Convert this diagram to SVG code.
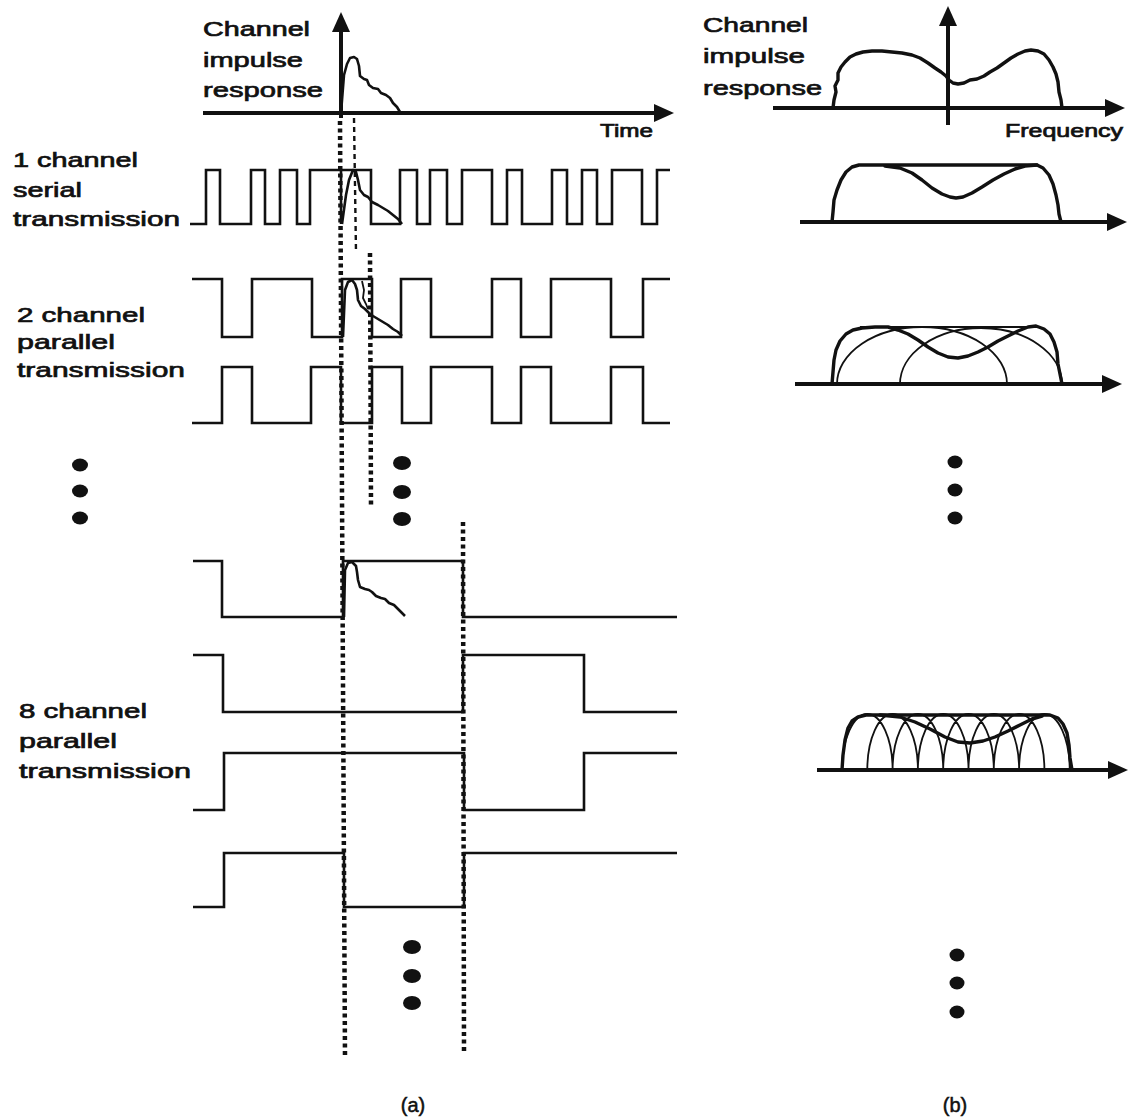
<svg xmlns="http://www.w3.org/2000/svg" width="1135" height="1117" viewBox="0 0 1135 1117">
  <defs>
    <style>
      .lbl { font-family: "Liberation Sans", Arial, sans-serif; font-weight: normal; font-size: 21px; fill: #111; stroke: #111; stroke-width: 0.7; }
      .cap { font-family: "Liberation Sans", Arial, sans-serif; font-weight: normal; font-size: 20px; fill: #111; stroke: #111; stroke-width: 0.5; }
      .ax { stroke: #111; stroke-width: 4; fill: none; }
      .wave { stroke: #111; stroke-width: 2.6; fill: none; stroke-linejoin: miter; }
      .resp { stroke: #111; stroke-width: 2.6; fill: none; stroke-linejoin: round; }
      .env { stroke: #111; stroke-width: 3.4; fill: none; stroke-linejoin: round; stroke-linecap: round; }
      .sub { stroke: #111; stroke-width: 1.8; fill: none; }
      .dash { stroke: #111; stroke-width: 4.5; fill: none; stroke-dasharray: 4 3.5; }
      .dashThin { stroke: #111; stroke-width: 2.4; fill: none; stroke-dasharray: 5 4; }
      .dot { fill: #111; }
    </style>
    <marker id="arrow" markerUnits="userSpaceOnUse" markerWidth="24" markerHeight="22" viewBox="0 -11 24 22" refX="0" refY="0" orient="auto" overflow="visible">
      <path d="M0,-9 L20,0 L0,9 z" fill="#111"/>
    </marker>
  </defs>

  <rect width="1135" height="1117" fill="#fff"/>

  <!-- Panel (a): time domain -->
  <g id="time-axes">
    <line class="ax" x1="341" y1="118" x2="341" y2="32" marker-end="url(#arrow)"/>
    <line class="ax" x1="203" y1="113" x2="654" y2="113" marker-end="url(#arrow)"/>
    <text class="lbl" x="203" y="36" textLength="107" lengthAdjust="spacingAndGlyphs">Channel</text>
    <text class="lbl" x="203" y="67" textLength="100" lengthAdjust="spacingAndGlyphs">impulse</text>
    <text class="lbl" x="203" y="97" textLength="120" lengthAdjust="spacingAndGlyphs">response</text>
    <text class="lbl" x="600" y="137" style="font-size:18px" textLength="53" lengthAdjust="spacingAndGlyphs">Time</text>
    <polyline class="resp" points="341,113 344,75 347,64 350,58 354,57 357,59 359,66 360,76 364,79 367,80 369,85 373,88 378,89 381,93 386,95 390,98 393,103 397,107 400,112 402,113"/>
  </g>

  <g id="serial-channel">
    <text class="lbl" x="13" y="167" textLength="125" lengthAdjust="spacingAndGlyphs">1 channel</text>
    <text class="lbl" x="13" y="197" textLength="69" lengthAdjust="spacingAndGlyphs">serial</text>
    <text class="lbl" x="13" y="226" textLength="167" lengthAdjust="spacingAndGlyphs">transmission</text>
    <path class="wave" d="M190,224 H206 V170 H220 V224 H251 V170 H265 V224 H280 V170 H297 V224 H310 V170 H341 V224 M341,224 V170 H371 V224 H400 V170 H417 V224 H430 V170 H447 V224 H462 V170 H492 V224 H507 V170 H522 V224 H552 V170 H567 V224 H582 V170 H597 V224 H612 V170 H642 V224 H657 V170 H670"/>
    <polyline class="resp" points="342,224 346,195 349,180 353,170 356,172 358,180 360,190 364,195 368,197 372,202 378,205 383,208 388,211 393,215 398,219 402,224"/>
  </g>

  <g id="two-channel">
    <text class="lbl" x="17" y="322" textLength="128" lengthAdjust="spacingAndGlyphs">2 channel</text>
    <text class="lbl" x="17" y="349" textLength="98" lengthAdjust="spacingAndGlyphs">parallel</text>
    <text class="lbl" x="17" y="377" textLength="168" lengthAdjust="spacingAndGlyphs">transmission</text>
    <path class="wave" d="M192,279 H222 V337 H252 V279 H312 V337 H342 V279 H372 V337 H401 V279 H431 V337 H492 V279 H521 V337 H551 V279 H611 V337 H643 V279 H670"/>
    <path class="wave" d="M192,423 H222 V367 H252 V423 H311 V367 H341 V423 H372 V367 H402 V423 H431 V367 H492 V423 H521 V367 H551 V423 H611 V367 H643 V423 H670"/>
    <polyline class="resp" points="343,337 345,290 348,282 352,280 355,284 357,290 358,300 361,306 365,309 369,313 373,316 378,319 383,322 388,325 393,329 398,332 402,336"/>
    <polyline class="sub" points="362,281 364,290 363,298 366,304 368,309"/>
  </g>

  <g id="eight-channel">
    <text class="lbl" x="19" y="718" textLength="128" lengthAdjust="spacingAndGlyphs">8 channel</text>
    <text class="lbl" x="19" y="748" textLength="98" lengthAdjust="spacingAndGlyphs">parallel</text>
    <text class="lbl" x="19" y="778" textLength="172" lengthAdjust="spacingAndGlyphs">transmission</text>
    <path class="wave" d="M193,561 H222 V617 H343 V561 H463 V617 H677"/>
    <path class="wave" d="M193,655 H223 V712 H463 V655 H584 V712 H677"/>
    <path class="wave" d="M193,810 H224 V753 H464 V810 H584 V753 H677"/>
    <path class="wave" d="M193,907 H224 V853 H344 V907 H464 V853 H677"/>
    <polyline class="resp" points="344,617 345,570 348,563 352,562 356,566 357,572 358,580 360,587 365,589 369,590 372,592 376,596 381,598 385,599 389,603 394,605 398,609 402,613 405,616"/>
  </g>

  <!-- symbol-duration markers -->
  <g id="connectors">
    <line class="dash" x1="340" y1="121" x2="345" y2="1058"/>
    <line class="dashThin" x1="354" y1="118" x2="356" y2="252"/>
    <line class="dash" x1="370" y1="253" x2="371" y2="507"/>
    <line class="dash" x1="463" y1="522" x2="464" y2="1053"/>
  </g>

  <g id="ellipsis-a">
    <ellipse class="dot" cx="80" cy="465" rx="8" ry="6.5"/>
    <ellipse class="dot" cx="80" cy="491" rx="8" ry="6.5"/>
    <ellipse class="dot" cx="80" cy="518" rx="8" ry="6.5"/>
    <ellipse class="dot" cx="402" cy="463" rx="9" ry="7"/>
    <ellipse class="dot" cx="402" cy="492" rx="9" ry="7"/>
    <ellipse class="dot" cx="402" cy="519" rx="9" ry="7"/>
    <ellipse class="dot" cx="412" cy="947" rx="9" ry="7"/>
    <ellipse class="dot" cx="412" cy="976" rx="9" ry="7"/>
    <ellipse class="dot" cx="412" cy="1003" rx="9" ry="7"/>
  </g>

  <text class="cap" x="413" y="1112" text-anchor="middle">(a)</text>

  <!-- Panel (b): frequency domain -->
  <g id="freq-axes">
    <line class="ax" x1="948" y1="125" x2="948" y2="26" marker-end="url(#arrow)"/>
    <line class="ax" x1="773" y1="108" x2="1105" y2="108" marker-end="url(#arrow)"/>
    <text class="lbl" x="703" y="32" textLength="105" lengthAdjust="spacingAndGlyphs">Channel</text>
    <text class="lbl" x="703" y="63" textLength="102" lengthAdjust="spacingAndGlyphs">impulse</text>
    <text class="lbl" x="703" y="95" textLength="119" lengthAdjust="spacingAndGlyphs">response</text>
    <text class="lbl" x="1005" y="137" style="font-size:18px" textLength="118" lengthAdjust="spacingAndGlyphs">Frequency</text>
    <polyline class="env" points="833,108 834,100 836,92 835,86 838,80 838,73 841,67 845,62 850,57 856,54 863,52 872,51 882,51 892,52 902,53 912,55 920,58 928,63 935,68 941,72 946,76 949,80 953,83 958,84 964,83 970,80 977,79 984,76 990,72 997,68 1004,63 1011,58 1018,54 1025,51 1031,50 1038,51 1044,54 1049,60 1053,67 1056,74 1058,82 1059,92 1061,100 1062,108"/>
  </g>

  <g id="serial-spectrum">
    <line class="ax" x1="800" y1="222" x2="1107" y2="222" marker-end="url(#arrow)"/>
    <polyline class="env" points="832,222 833,212 834,200 837,190 841,180 846,172 852,167 859,165 1037,165 1043,168 1049,175 1053,184 1056,195 1058,205 1059,214 1061,222"/>
    <polyline class="env" points="885,166 900,168 912,173 922,180 932,188 942,194 950,197 956,198 963,197 972,193 982,187 993,180 1004,174 1015,169 1025,166 1037,165"/>
  </g>

  <g id="two-channel-spectrum">
    <line class="ax" x1="795" y1="384" x2="1102" y2="384" marker-end="url(#arrow)"/>
    <line class="sub" x1="860" y1="327" x2="1036" y2="327"/>
    <path class="sub" d="M837,384 A85,57 0 0 1 1007,384"/>
    <path class="sub" d="M900,384 A81,56 0 0 1 1062,384"/>
    <polyline class="env" points="832,384 833,372 834,360 836,350 840,341 846,334 853,330 862,328 875,327 888,327 898,330 908,334 918,340 928,347 938,353 948,357 958,358 968,356 978,352 988,347 998,341 1008,336 1018,331 1028,327 1036,326 1044,329 1050,334 1054,342 1057,352 1058,364 1060,374 1062,384"/>
  </g>

  <g id="eight-channel-spectrum">
    <line class="ax" x1="817" y1="770" x2="1108" y2="770" marker-end="url(#arrow)"/>
    <path class="sub" d="M842,770 A25.3,56 0 0 1 892.6,770 M867.3,770 A25.3,56 0 0 1 917.9,770 M892.6,770 A25.3,56 0 0 1 943.2,770 M917.9,770 A25.3,56 0 0 1 968.5,770 M943.2,770 A25.3,56 0 0 1 993.8,770 M968.5,770 A25.3,56 0 0 1 1019.1,770 M993.8,770 A25.3,56 0 0 1 1044.4,770 M1019.1,770 A25.3,56 0 0 1 1069.7,770"/>
    <polyline class="env" points="842,770 843,755 845,740 848,728 852,721 858,717 866,715 1050,715 1058,718 1063,724 1067,733 1069,745 1070,758 1072,770"/>
    <polyline class="env" points="880,715 900,717 915,722 930,729 945,737 958,742 970,743 983,741 995,737 1008,731 1020,725 1032,719 1042,716"/>
  </g>

  <g id="ellipsis-b">
    <ellipse class="dot" cx="955" cy="462" rx="7.5" ry="6.5"/>
    <ellipse class="dot" cx="955" cy="490" rx="7.5" ry="6.5"/>
    <ellipse class="dot" cx="955" cy="518" rx="7.5" ry="6.5"/>
    <ellipse class="dot" cx="957" cy="955" rx="7.5" ry="6.5"/>
    <ellipse class="dot" cx="957" cy="983" rx="7.5" ry="6.5"/>
    <ellipse class="dot" cx="957" cy="1012" rx="7.5" ry="6.5"/>
  </g>

  <text class="cap" x="955" y="1112" text-anchor="middle">(b)</text>
</svg>
